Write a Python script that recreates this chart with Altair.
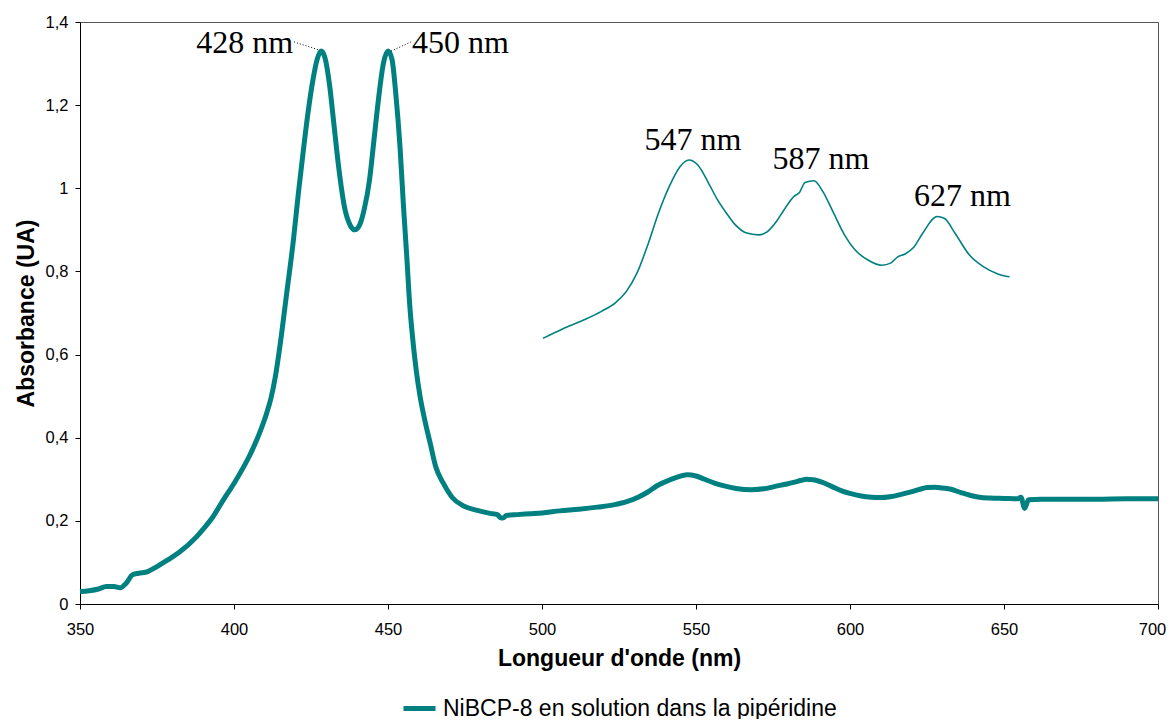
import altair as alt
import pandas as pd

# Main spectrum (thick line)
wl_main = [350, 353, 356, 358.5, 361, 363, 365, 367, 369, 372, 375, 378.5, 382, 387.9, 390, 393, 396.5, 400,
           403, 405, 407.4, 409, 410.6, 412, 413.5, 415, 417.1, 419.3, 420.9, 422.5, 424, 425.5, 427, 428.3,
           429.5, 431, 432.5, 434, 436, 437.8, 439.2, 440.8, 442.3, 444, 445.5, 447, 448.5, 450, 451.3, 452.5,
           453.9, 455, 456.1, 457.1, 458, 459.2, 460.4, 462, 463.6, 465.5, 468, 471, 474.5, 479, 483.1, 485.5,
           486.5, 487.3, 488.5, 492, 496, 500, 505.8, 512, 518, 523.6, 527.5, 531.2, 534.5, 537.5, 541, 543.9,
           547.1, 550, 552.8, 556, 559.2, 563, 568.1, 572, 575.7, 579, 582, 584, 585.8, 588, 590.9, 594, 597.3,
           600, 603.6, 607, 610, 613, 616.3, 619.5, 622.7, 625, 627.7, 630, 632.8, 636, 639.2, 642, 645.5, 650,
           654.5, 655.5, 656.7, 658, 662, 671, 680, 690, 700]
abs_main = [0.030, 0.032, 0.036, 0.042, 0.042, 0.039, 0.050, 0.070, 0.074, 0.078, 0.090, 0.106, 0.123, 0.162,
            0.180, 0.208, 0.250, 0.290, 0.328, 0.356, 0.395, 0.425, 0.459, 0.495, 0.550, 0.625, 0.747, 0.876,
            0.988, 1.090, 1.180, 1.255, 1.310, 1.330, 1.315, 1.250, 1.150, 1.050, 0.950, 0.910, 0.900, 0.912,
            0.950, 1.020, 1.120, 1.220, 1.300, 1.330, 1.310, 1.230, 1.100, 0.960, 0.835, 0.715, 0.640, 0.560,
            0.500, 0.440, 0.390, 0.330, 0.290, 0.255, 0.236, 0.225, 0.218, 0.215, 0.208, 0.207, 0.213, 0.215,
            0.217, 0.219, 0.224, 0.228, 0.233, 0.239, 0.246, 0.257, 0.270, 0.285, 0.297, 0.305, 0.311, 0.308,
            0.300, 0.291, 0.284, 0.278, 0.275, 0.277, 0.283, 0.288, 0.293, 0.297, 0.300, 0.299, 0.293, 0.283,
            0.272, 0.266, 0.260, 0.257, 0.256, 0.258, 0.263, 0.269, 0.276, 0.280, 0.281, 0.279, 0.276, 0.268,
            0.261, 0.257, 0.255, 0.254, 0.253, 0.257, 0.230, 0.251, 0.252, 0.252, 0.252, 0.253, 0.253]

# Magnified Q-band region (thin line)
wl_zoom = [500.3, 506.5, 513.5, 519.3, 523.9, 527.4, 530.9, 534.4, 537.8, 541.3, 544.8, 547.7, 550.6, 554.1,
           557.0, 559.9, 562.8, 566.2, 570.3, 573.2, 576.1, 578.4, 581.9, 583.6, 585.4, 588.3, 591.2, 594.7,
           598.2, 601.6, 605.7, 610.3, 613.2, 615.5, 617.9, 620.7, 623.6, 628.3, 630.6, 634.1, 638.7, 643.4,
           648.0, 651.8]
abs_zoom = [0.639, 0.661, 0.683, 0.704, 0.725, 0.752, 0.797, 0.865, 0.940, 1.004, 1.052, 1.068, 1.056, 1.012,
            0.972, 0.940, 0.912, 0.893, 0.888, 0.896, 0.920, 0.946, 0.981, 0.990, 1.014, 1.018, 0.992, 0.940,
            0.888, 0.852, 0.828, 0.815, 0.820, 0.835, 0.842, 0.858, 0.892, 0.932, 0.928, 0.892, 0.840, 0.811,
            0.794, 0.787]

# Peak labels
lab_text = ["547 nm", "587 nm", "627 nm"]
lab_x = [549.0, 590.6, 636.5]
lab_y = [1.092, 1.046, 0.957]

labL_text = ["428 nm"]
labL_x = [419.2]
labL_y = [1.325]
labR_text = ["450 nm"]
labR_x = [457.8]
labR_y = [1.325]

lead_x = [419.5, 451.0]
lead_y = [1.352, 1.330]
lead_x2 = [427.9, 457.4]
lead_y2 = [1.332, 1.352]

y_ticks = [0, 0.2, 0.4, 0.6, 0.8, 1.0, 1.2, 1.4]
x_ticks = [350, 400, 450, 500, 550, 600, 650, 700]

series_name = "NiBCP-8 en solution dans la pipéridine"
teal = "#008080"
sans = "Liberation Sans"
serif = "Liberation Serif"

df_main = pd.DataFrame({"wl": wl_main, "a": abs_main, "s": series_name})
df_zoom = pd.DataFrame({"wl": wl_zoom, "a": abs_zoom})
df_lab = pd.DataFrame({"t": lab_text, "x": lab_x, "y": lab_y})
df_labL = pd.DataFrame({"t": labL_text, "x": labL_x, "y": labL_y})
df_labR = pd.DataFrame({"t": labR_text, "x": labR_x, "y": labR_y})
df_lead = pd.DataFrame({"x": lead_x, "y": lead_y, "x2": lead_x2, "y2": lead_y2})

xscale = alt.Scale(domain=[350, 700], nice=False, zero=False)
yscale = alt.Scale(domain=[0, 1.4], nice=False)

xenc = alt.X("wl:Q", scale=xscale, axis=alt.Axis(
    title="Longueur d'onde (nm)", values=x_ticks, grid=False, domainColor="black", tickColor="black",
    tickSize=5, labelFont=sans, labelFontSize=16.5, labelColor="black", labelPadding=12,
    labelOffset={"condition": {"test": "datum.value == 700", "value": -6}, "value": 0},
    titleFont=sans, titleFontSize=23, titleFontWeight="bold", titleColor="black", titlePadding=10,
    labelFlush=False))
yenc = alt.Y("a:Q", scale=yscale, axis=alt.Axis(
    title="Absorbance (UA)", values=y_ticks, grid=False, domainColor="black", tickColor="black",
    tickSize=5, labelFont=sans, labelFontSize=16.5, labelColor="black", labelPadding=7,
    labelExpr="replace(toString(datum.value), '.', ',')",
    titleFont=sans, titleFontSize=23, titleFontWeight="bold", titleColor="black", titlePadding=7))

main = alt.Chart(df_main).mark_line(strokeWidth=5, interpolate="monotone").encode(
    x=xenc, y=yenc,
    color=alt.Color("s:N", scale=alt.Scale(domain=[series_name], range=[teal]),
                    legend=alt.Legend(title=None, orient="none", legendX=321, legendY=668, padding=0,
                                      labelFont=sans, labelFontSize=23, labelColor="black",
                                      labelLimit=0,
                                      symbolType="stroke", symbolStrokeWidth=5, symbolSize=1024,
                                      labelOffset=5)))

thin = alt.Chart(df_zoom).mark_line(strokeWidth=1.6, color=teal, interpolate="monotone").encode(
    x=alt.X("wl:Q", scale=xscale), y=alt.Y("a:Q", scale=yscale))

labels = alt.Chart(df_lab).mark_text(font=serif, fontSize=32, color="black", align="center",
                                     baseline="alphabetic").encode(
    x=alt.X("x:Q", scale=xscale), y=alt.Y("y:Q", scale=yscale), text="t:N")

labelsL = alt.Chart(df_labL).mark_text(font=serif, fontSize=32, color="black", align="right",
                                       baseline="alphabetic").encode(
    x=alt.X("x:Q", scale=xscale), y=alt.Y("y:Q", scale=yscale), text="t:N")

labelsR = alt.Chart(df_labR).mark_text(font=serif, fontSize=32, color="black", align="left",
                                       baseline="alphabetic").encode(
    x=alt.X("x:Q", scale=xscale), y=alt.Y("y:Q", scale=yscale), text="t:N")

leads = alt.Chart(df_lead).mark_rule(color="black", strokeWidth=1, strokeDash=[1, 2]).encode(
    x=alt.X("x:Q", scale=xscale), y=alt.Y("y:Q", scale=yscale),
    x2="x2:Q", y2="y2:Q")

chart = alt.layer(main, thin, leads, labels, labelsL, labelsR).properties(
    width=1078, height=582,
    background="white",
    autosize=alt.AutoSizeParams(type="none"),
    padding={"left": 72, "top": 14, "right": 8, "bottom": 115},
).configure_view(stroke="#555555", strokeWidth=1)

chart.save("out.html", embed_options={"renderer": "svg", "actions": False})
